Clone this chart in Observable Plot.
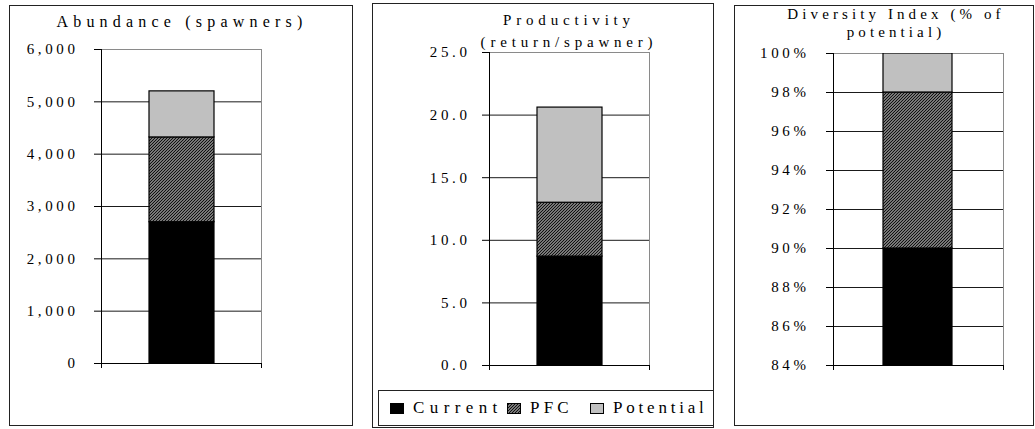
<!DOCTYPE html>
<html><head><meta charset="utf-8">
<script src="https://cdn.jsdelivr.net/npm/d3@7"></script>
<script src="https://cdn.jsdelivr.net/npm/@observablehq/plot@0.6"></script>
<style>
body{margin:0;background:#fff;}
#root{position:relative;width:1035px;height:429px;overflow:hidden;font-family:"Liberation Serif",serif;color:#000;}
.box{position:absolute;border:1px solid #222;box-sizing:border-box;}
.ttl{position:absolute;font-size:15px;white-space:nowrap;transform:translateX(-50%);line-height:1;}
.chart{position:absolute;}
.legend{position:absolute;font-size:17px;letter-spacing:4.2px;white-space:nowrap;}
.legend .item{position:absolute;top:0;display:flex;align-items:center;}
.legend svg{margin-right:9px;}
</style></head><body>
<svg width="0" height="0" style="position:absolute">
  <defs>
    <pattern id="hatch" patternUnits="userSpaceOnUse" width="3" height="3">
      <rect width="3" height="3" fill="#d8d8d8"/>
      <path d="M-1,1 l2,-2 M0,3 l3,-3 M2,4 l2,-2" stroke="#111" stroke-width="1.4"/>
    </pattern>
  </defs>
</svg>
<div id="root"></div>
<script>
// ---- data ----
const series = ["Current", "PFC", "Potential"];
const seriesFills = ["#000000", "url(#hatch)", "#c0c0c0"];
const abundance = [2700, 1620, 880];          // spawners (stack: 2700, 4320, 5200)
const productivity = [8.7, 4.3, 7.6];         // return/spawner (stack: 8.7, 13.0, 20.6)
const diversity = [0.90, 0.08, 0.02];         // share of potential (stack: 90%, 98%, 100%)
const abundanceTicks = [0, 1000, 2000, 3000, 4000, 5000, 6000];
const productivityTicks = [0, 5, 10, 15, 20, 25];
const diversityTicks = [0.84, 0.86, 0.88, 0.90, 0.92, 0.94, 0.96, 0.98, 1.00];
const titles = [["Abundance (spawners)"], ["Productivity", "(return/spawner)"], ["Diversity Index (% of", "potential)"]];

const root = document.getElementById("root");

function panel(cfg) {
  const {values, ticks, fmt, box, m, tickPadding, title, titleX, titleY, titleStyle} = cfg;
  const b = document.createElement("div");
  b.className = "box";
  Object.assign(b.style, {left: box.x + "px", top: box.y + "px", width: box.w + "px", height: box.h + "px"});
  root.appendChild(b);

  const rows = series.map((s, i) => ({cat: "bar", series: s, value: values[i]}));
  const domain = [ticks[0], ticks[ticks.length - 1]];
  const plotH = box.h - m.top - m.bottom;
  const svg = Plot.plot({
    width: box.w, height: box.h,
    marginLeft: m.left, marginRight: m.right, marginTop: m.top, marginBottom: m.bottom,
    style: {fontFamily: "'Liberation Serif', serif", fontSize: "15px", letterSpacing: "3.6px", background: "transparent", overflow: "visible", color: "#000"},
    x: {type: "band", domain: ["bar"], padding: 0.42, axis: null},
    y: {domain, axis: null},
    color: {type: "ordinal", domain: series, range: seriesFills},
    marks: [
      Plot.frame({stroke: "#8a8a8a"}),
      Plot.gridY(ticks.slice(1, -1), {stroke: "#1a1a1a", strokeOpacity: 1}),
      Plot.barY(rows, {x: "cat", y: "value", fill: "series", stroke: "#000", strokeWidth: 1.2, clip: true}),
      Plot.axisY({ticks, tickSize: 7, tickPadding, tickFormat: fmt, stroke: "#000", strokeOpacity: 1, fill: "#000", label: null}),
      Plot.frame({anchor: "left", stroke: "#000"}),
      Plot.ruleY([domain[0]], {stroke: "#000"}),
      Plot.frame({anchor: "left", stroke: "#000", insetTop: plotH, insetBottom: -4}),
      Plot.frame({anchor: "right", stroke: "#000", insetTop: plotH, insetBottom: -4})
    ]
  });
  svg.classList.add("chart");
  Object.assign(svg.style, {left: box.x + "px", top: box.y + "px"});
  root.appendChild(svg);

  title.forEach((t, i) => {
    const d = document.createElement("div");
    d.className = "ttl";
    d.textContent = t;
    Object.assign(d.style, {left: titleX + "px", top: (titleY[i]) + "px"}, titleStyle);
    root.appendChild(d);
  });
}

panel({
  values: abundance, ticks: abundanceTicks, fmt: d3.format(","),
  box: {x: 9, y: 5, w: 344, h: 421}, m: {left: 92, right: 92, top: 44, bottom: 63},
  tickPadding: 16, title: titles[0], titleX: 182, titleY: [14],
  titleStyle: {fontSize: "16px", letterSpacing: "5.2px"}
});
panel({
  values: productivity, ticks: productivityTicks, fmt: d3.format(".1f"),
  box: {x: 372, y: 3, w: 342, h: 425}, m: {left: 117, right: 65, top: 49, bottom: 63},
  tickPadding: 12, title: titles[1], titleX: 569, titleY: [13, 35],
  titleStyle: {letterSpacing: "4.8px"}
});
panel({
  values: diversity, ticks: diversityTicks, fmt: d3.format(".0%"),
  box: {x: 734, y: 5, w: 300, h: 421}, m: {left: 99, right: 31, top: 48, bottom: 61},
  tickPadding: 17, title: titles[2], titleX: 896, titleY: [7, 25],
  titleStyle: {letterSpacing: "4.1px"}
});

// legend
const lg = document.createElement("div");
lg.className = "box";
Object.assign(lg.style, {left: "378px", top: "390px", width: "336px", height: "36px", background: "#fff"});
root.appendChild(lg);
const leg = document.createElement("div");
leg.className = "legend";
Object.assign(leg.style, {left: "390px", top: "398px"});
const legendOffsets = [0, 117, 200];
const legendSpacing = ["5.4px", "4.2px", "3.8px"];
series.forEach((s, i) => {
  const it = document.createElement("div");
  it.className = "item";
  it.style.left = legendOffsets[i] + "px";
  it.style.letterSpacing = legendSpacing[i];
  it.innerHTML = `<svg width="14" height="11"><rect x="0.5" y="0.5" width="13" height="10" fill="${seriesFills[i]}" stroke="#000"/></svg><span>${s}</span>`;
  leg.appendChild(it);
});
root.appendChild(leg);
</script>
</body></html>
